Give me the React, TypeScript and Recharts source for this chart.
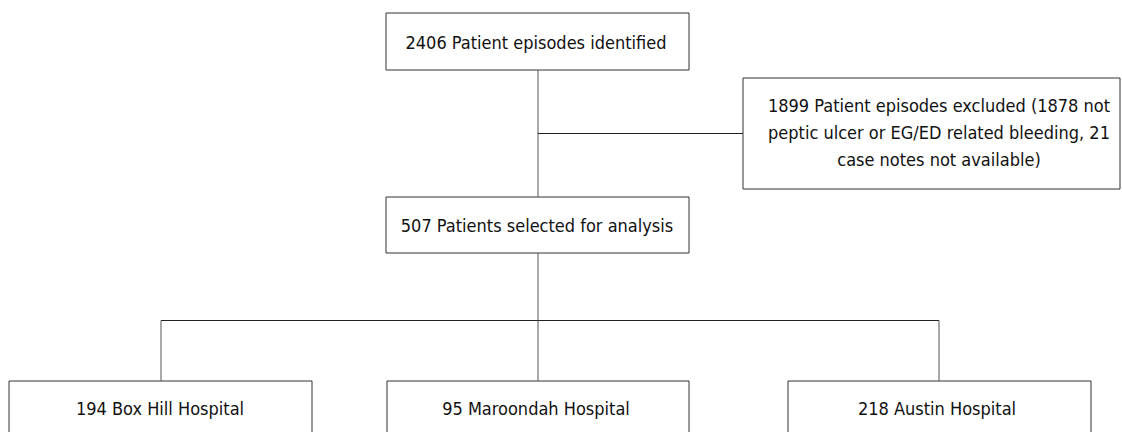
import React from "react";
import { ComposedChart, XAxis, YAxis, ReferenceArea, ReferenceLine } from "recharts";

const W = 1122;
const H = 432;

// Node texts (content)
const nodeIds = ["identified", "excluded", "selected", "boxhill", "maroondah", "austin"];
const nodeLines: string[][] = [
  ["2406 Patient episodes identified"],
  ["1899 Patient episodes excluded (1878 not", "peptic ulcer or EG/ED related bleeding, 21", "case notes not available)"],
  ["507 Patients selected for analysis"],
  ["194 Box Hill Hospital"],
  ["95 Maroondah Hospital"],
  ["218 Austin Hospital"],
];

// Layout (in axis units, 1 unit = 1 px)
const nodeX1 = [386, 743, 386, 9, 387, 788];
const nodeX2 = [689, 1120, 689, 312, 689, 1091];
const nodeY1 = [13, 78, 197, 381, 381, 381];
const nodeY2 = [70, 189, 253, 440, 440, 440];
const textCx = [536, 939, 537, 160, 536, 937];
const textCy = [42, 105, 225, 408, 408, 408];
const lineGap = 27;

// Connectors: [x1, y1, x2, y2]
const connectors: [number, number, number, number][] = [
  [538, 70, 538, 197],
  [538, 133.5, 743, 133.5],
  [538, 253, 538, 320.5],
  [161, 320.5, 939, 320.5],
  [161, 320.5, 161, 381],
  [538, 320.5, 538, 381],
  [939, 320.5, 939, 381],
];

const FONT = "'DejaVu Sans Condensed', 'DejaVu Sans', sans-serif";

export default function App() {
  return (
    <div style={{ position: "absolute", left: 0, top: 0, width: W, height: H, background: "#fff" }}>
      <ComposedChart width={W} height={H} margin={{ top: 0, right: 0, bottom: 0, left: 0 }} data={[{ x: 0, y: 0 }]}>
        <XAxis type="number" dataKey="x" domain={[0, W]} hide allowDataOverflow />
        <YAxis type="number" dataKey="y" domain={[0, H]} reversed hide allowDataOverflow />
        {connectors.map((c, i) => (
          <ReferenceLine
            key={"c" + i}
            segment={[{ x: c[0], y: c[1] }, { x: c[2], y: c[3] }]}
            stroke={c[0] === c[2] ? "#555" : "#222"}
            strokeWidth={1}
            ifOverflow="visible"
          />
        ))}
        {nodeIds.map((id, i) => (
          <ReferenceArea
            key={id}
            x1={nodeX1[i]}
            x2={nodeX2[i]}
            y1={nodeY1[i]}
            y2={nodeY2[i]}
            fill="#fff"
            fillOpacity={1}
            stroke="#333"
            strokeWidth={1}
            ifOverflow="visible"
            label={() => {
              const lines = nodeLines[i];
              return (
                <text textAnchor="middle" fontFamily={FONT} fontSize={18} fill="#111">
                  {lines.map((t, k) => (
                    <tspan key={k} x={textCx[i]} y={textCy[i] + k * lineGap} dominantBaseline="central">
                      {t}
                    </tspan>
                  ))}
                </text>
              );
            }}
          />
        ))}
      </ComposedChart>
    </div>
  );
}
